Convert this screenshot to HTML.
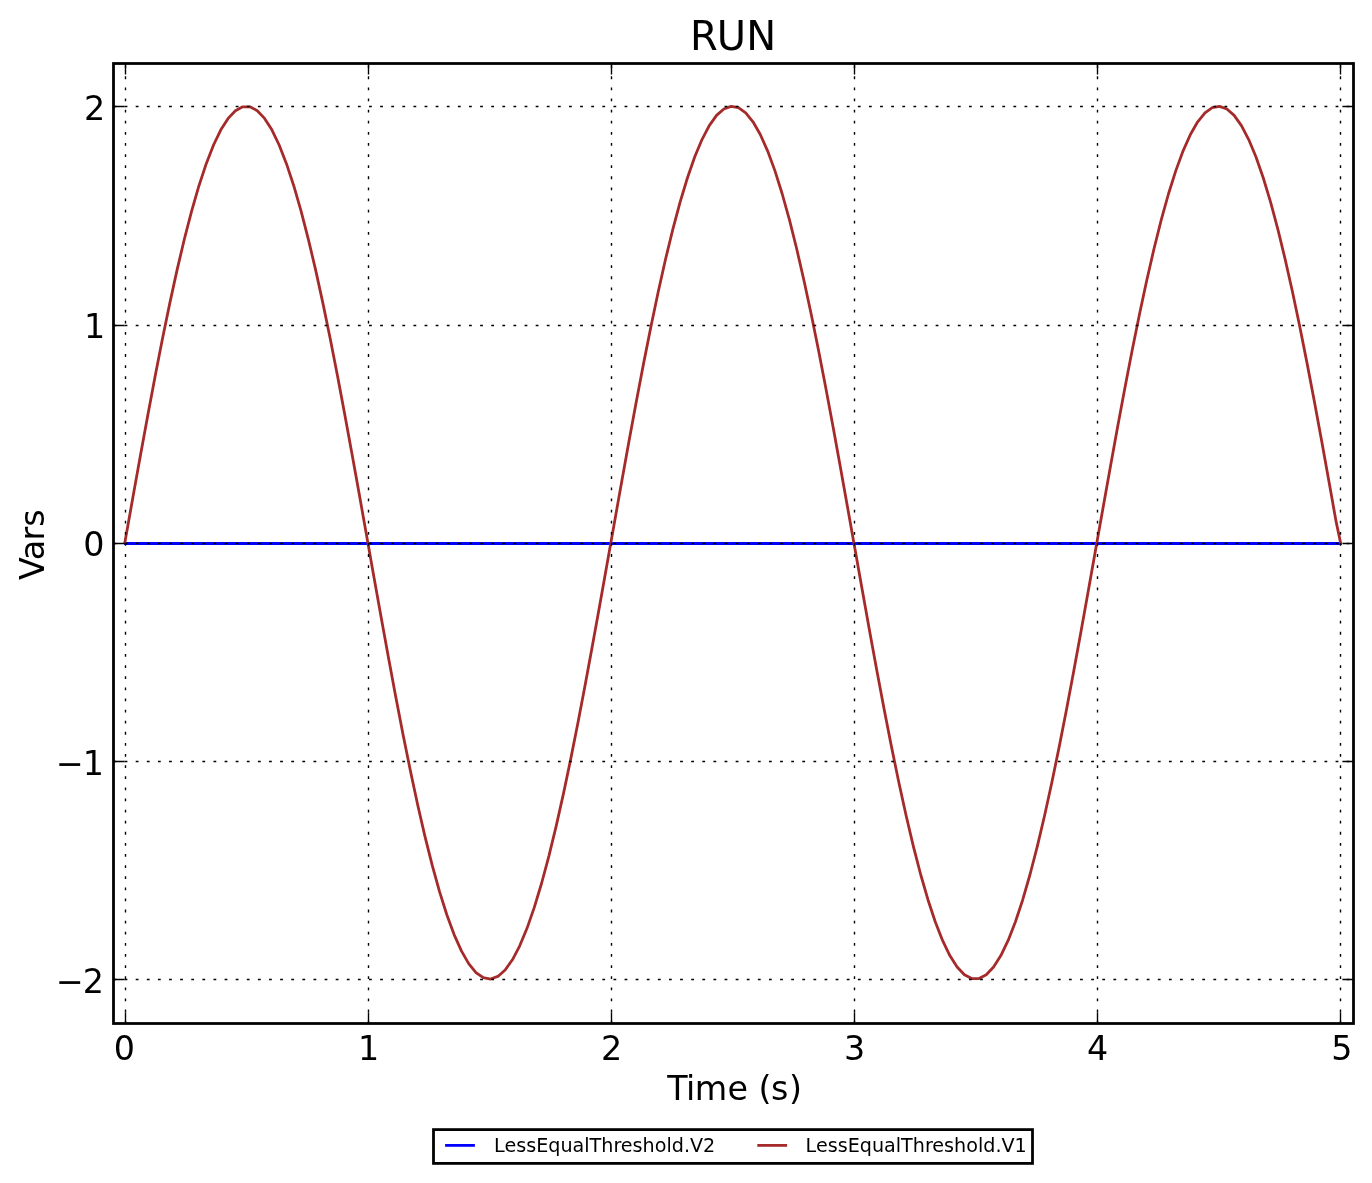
<!DOCTYPE html>
<html><head><meta charset="utf-8"><title>RUN</title>
<style>html,body{margin:0;padding:0;background:#fff}svg{display:block}text{font-family:"DejaVu Sans","Liberation Sans",sans-serif;fill:#000}</style></head><body>
<svg width="1372" height="1183" viewBox="0 0 1372 1183">
<rect width="1372" height="1183" fill="#fff"/>
<path d="M125.5 543.5L1340.5 543.5" stroke="#0000ff" stroke-width="2.78" fill="none" stroke-linecap="square"/>
<path d="M124.85 542.70L126.06 535.85L133.35 494.82L140.64 454.21L147.94 414.39L155.22 375.71L162.51 338.51L169.81 303.13L177.09 269.87L184.38 239.03L191.68 210.89L198.96 185.69L206.25 163.66L213.54 145.00L220.83 129.87L228.12 118.40L235.41 110.69L242.70 106.82L250.00 106.82L257.28 110.69L264.57 118.40L271.87 129.87L279.15 145.00L286.44 163.66L293.74 185.69L301.02 210.89L308.31 239.03L315.61 269.87L322.89 303.13L330.18 338.51L337.48 375.71L344.76 414.39L352.05 454.21L359.35 494.82L366.63 535.85L373.92 576.94L381.22 617.72L388.50 657.84L395.79 696.94L403.08 734.67L410.38 770.70L417.66 804.70L424.95 836.38L432.25 865.45L439.53 891.65L446.82 914.76L454.11 934.56L461.40 950.89L468.69 963.59L475.98 972.56L483.27 977.71L490.56 979.01L497.86 976.42L505.14 969.99L512.43 959.77L519.72 945.84L527.01 928.34L534.30 907.41L541.59 883.25L548.88 856.06L556.17 826.09L563.46 793.61L570.75 758.90L578.04 722.27L585.33 684.04L592.62 644.57L599.91 604.18L607.20 563.26L614.49 522.14L621.78 481.22L629.07 440.83L636.37 401.36L643.65 363.13L650.95 326.50L658.24 291.79L665.52 259.31L672.81 229.34L680.10 202.15L687.39 177.99L694.68 157.06L701.98 139.56L709.26 125.63L716.55 115.41L723.85 108.98L731.13 106.39L738.42 107.69L745.71 112.84L753.00 121.81L760.29 134.51L767.58 150.84L774.88 170.64L782.16 193.75L789.46 219.95L796.74 249.02L804.03 280.70L811.32 314.70L818.62 350.73L825.90 388.46L833.19 427.56L840.49 467.68L847.77 508.46L855.06 549.55L862.35 590.58L869.64 631.19L876.93 671.01L884.23 709.69L891.51 746.89L898.80 782.27L906.10 815.53L913.38 846.37L920.67 874.51L927.96 899.71L935.25 921.74L942.54 940.40L949.83 955.53L957.12 967.00L964.41 974.71L971.71 978.58L978.99 978.58L986.28 974.71L993.57 967.00L1000.86 955.53L1008.15 940.40L1015.44 921.74L1022.74 899.71L1030.02 874.51L1037.31 846.37L1044.60 815.53L1051.89 782.27L1059.18 746.89L1066.47 709.69L1073.76 671.01L1081.05 631.19L1088.35 590.58L1095.63 549.55L1102.92 508.46L1110.21 467.68L1117.50 427.56L1124.79 388.46L1132.08 350.73L1139.38 314.70L1146.66 280.70L1153.95 249.02L1161.24 219.95L1168.53 193.75L1175.83 170.64L1183.11 150.84L1190.40 134.51L1197.69 121.81L1204.98 112.84L1212.27 107.69L1219.56 106.39L1226.86 108.98L1234.14 115.41L1241.43 125.63L1248.72 139.56L1256.01 157.06L1263.30 177.99L1270.59 202.15L1277.88 229.34L1285.17 259.31L1292.46 291.79L1299.75 326.50L1307.04 363.13L1314.33 401.36L1321.62 440.83L1328.91 481.22L1336.20 522.14L1340.55 542.70" stroke="#a52a2a" stroke-width="2.78" fill="none" stroke-linejoin="round" stroke-linecap="square"/>
<path d="M125.5 1023.5L125.5 63.5M368.5 1023.5L368.5 63.5M611.5 1023.5L611.5 63.5M854.5 1023.5L854.5 63.5M1097.5 1023.5L1097.5 63.5M1340.5 1023.5L1340.5 63.5M113.5 106.5L1353.5 106.5M113.5 325.5L1353.5 325.5M113.5 543.5L1353.5 543.5M113.5 761.5L1353.5 761.5M113.5 979.5L1353.5 979.5" stroke="#000" stroke-width="1.39" stroke-dasharray="2.78 8.33" fill="none"/>
<path d="M125.5 1023.5L125.5 1012.4M125.5 63.5L125.5 74.6M368.5 1023.5L368.5 1012.4M368.5 63.5L368.5 74.6M611.5 1023.5L611.5 1012.4M611.5 63.5L611.5 74.6M854.5 1023.5L854.5 1012.4M854.5 63.5L854.5 74.6M1097.5 1023.5L1097.5 1012.4M1097.5 63.5L1097.5 74.6M1340.5 1023.5L1340.5 1012.4M1340.5 63.5L1340.5 74.6M113.5 106.5L124.6 106.5M1353.5 106.5L1342.4 106.5M113.5 325.5L124.6 325.5M1353.5 325.5L1342.4 325.5M113.5 543.5L124.6 543.5M1353.5 543.5L1342.4 543.5M113.5 761.5L124.6 761.5M1353.5 761.5L1342.4 761.5M113.5 979.5L124.6 979.5M1353.5 979.5L1342.4 979.5" stroke="#000" stroke-width="1.39" fill="none"/>
<rect x="113.5" y="63.5" width="1240.0" height="960.0" fill="none" stroke="#000" stroke-width="2.78"/>
<text x="690.0" y="49.7" font-size="40" dx="0 -0.95 0">RUN</text>
<text x="124.40" y="1060.25" font-size="33.33" text-anchor="middle">0</text>
<text x="368.57" y="1060.25" font-size="33.33" text-anchor="middle">1</text>
<text x="611.57" y="1060.25" font-size="33.33" text-anchor="middle">2</text>
<text x="854.68" y="1060.25" font-size="33.33" text-anchor="middle">3</text>
<text x="1097.68" y="1060.25" font-size="33.33" text-anchor="middle">4</text>
<text x="1341.85" y="1060.25" font-size="33.33" text-anchor="middle">5</text>
<text x="105.3" y="120.0" font-size="33.33" text-anchor="end">2</text>
<text x="105.3" y="338.0" font-size="33.33" text-anchor="end">1</text>
<text x="104.4" y="556.0" font-size="33.33" text-anchor="end">0</text>
<text x="103.1" y="775.0" font-size="33.33" text-anchor="end" dx="0.9 -1.1">−1</text>
<text x="103.1" y="993.0" font-size="33.33" text-anchor="end" dx="0.9 -1.1">−2</text>
<text x="665.75" y="1099.7" font-size="33.33" dx="1.5 -0.6 -0.4 0.2 0 -0.2 -0.5 0.6">Time (s)</text>
<text transform="translate(43.9 579.95) rotate(-90)" font-size="33.33" dx="0 -0.5 -0.65 0">Vars</text>
<rect x="433.5" y="1129.6" width="599.0" height="33.80000000000018" fill="#fff" stroke="#000" stroke-width="2.78"/>
<path d="M445.1 1145.4L474.9 1145.4" stroke="#0000ff" stroke-width="2.78"/>
<text x="494.1" y="1151.9" font-size="19.15">LessEqualThreshold.V2</text>
<path d="M757.3 1145.4L787.1 1145.4" stroke="#a52a2a" stroke-width="2.78"/>
<text x="805.6" y="1151.9" font-size="19.15">LessEqualThreshold.V1</text>
</svg></body></html>
